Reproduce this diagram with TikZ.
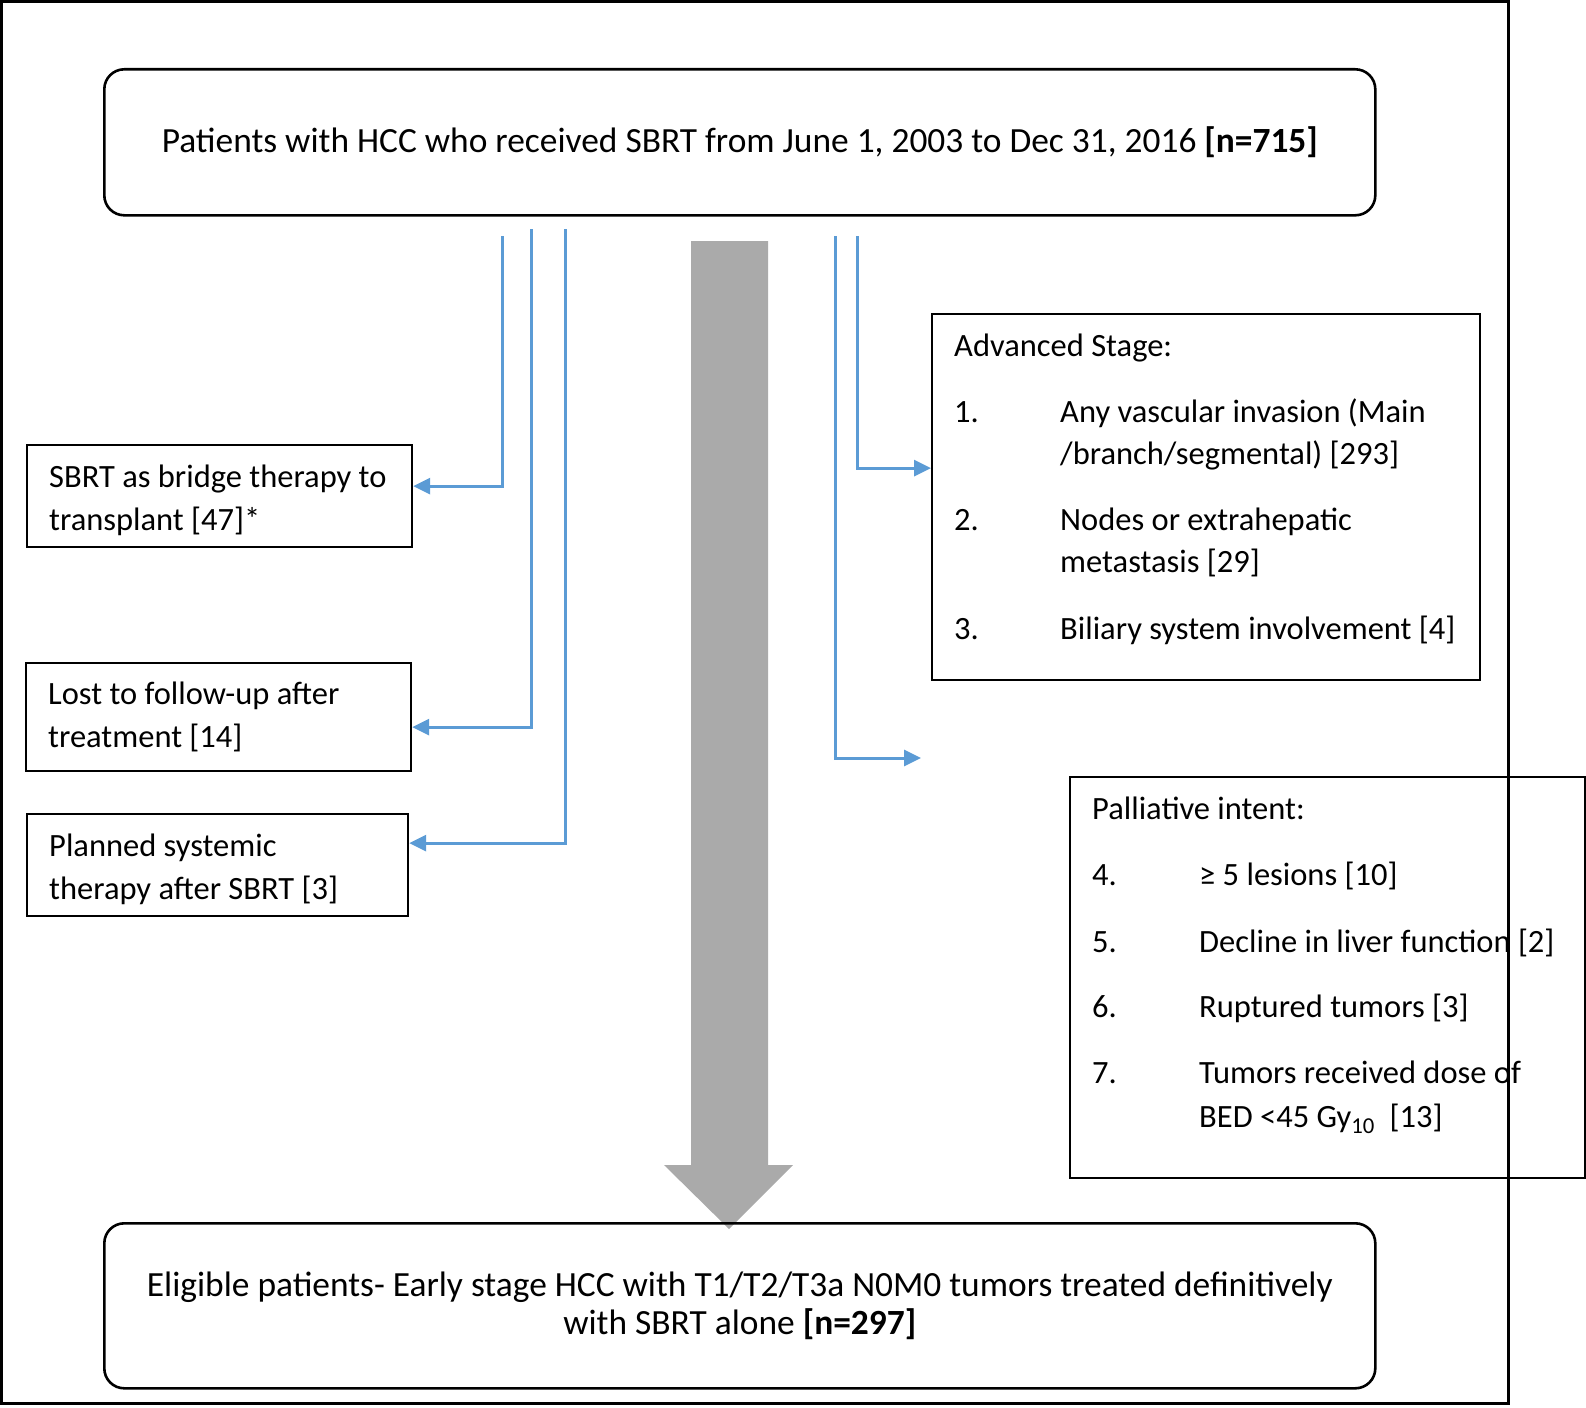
\documentclass[tikz,border=0pt]{standalone}
\usepackage{fontspec}
\setmainfont{Carlito}
\usepackage{xcolor}
\usepackage{tikz}
\usetikzlibrary{arrows.meta}
\definecolor{flowblue}{HTML}{5B9BD5}
\definecolor{arrgray}{HTML}{AAAAAA}
\tikzset{
  box_round/.style = {draw=black, line width=2.6pt, rounded corners=20pt,
    anchor=north west, minimum width=1271pt, align=center, inner sep=0pt,
    font=\fontsize{35.4}{38.5}\selectfont},% boite arrondie
  box_side/.style = {draw=black, line width=2.2pt, anchor=north west,
    inner sep=0pt},% boite exclusion
  side_txt/.style = {anchor=west, align=left, inner sep=0pt},% texte gauche
  item_txt/.style = {anchor=base west, inner sep=0pt},% ligne de liste
  flow_arr/.style = {draw=flowblue, line width=3pt,
    -{Triangle[length=17pt,width=16pt]}}% fleche bleue
}

\begin{document}
\begin{tikzpicture}[x=1pt, y=-1pt, font=\fontsize{32.5}{43}\selectfont]
\useasboundingbox (0,0) rectangle (1586,1407);
\draw[line width=3pt] (1.5,1.5) rectangle (1508,1403);

% grosse fleche grise
\fill[arrgray] (691,241) -- (768,241) -- (768,1165) -- (793,1165) -- (729,1229)
  -- (664,1165) -- (691,1165) -- cycle;

\node[box_round, minimum height=146pt] (patients) at (103,68)
  {Patients with HCC who received SBRT from June 1, 2003 to Dec 31, 2016 \textbf{[n=715]}};
\node[box_round, minimum height=165pt] (eligible) at (103,1222)
  {Eligible patients- Early stage HCC with T1/T2/T3a N0M0 tumors treated definitively\\
   with SBRT alone \textbf{[n=297]}};

% exclusions a gauche
\node[box_side, minimum width=385pt, minimum height=102pt] (bridge) at (26,444) {};
\node[side_txt] (bridge_t) at ([xshift=23pt,yshift=-4pt]bridge.west)
  {SBRT as bridge therapy to\\transplant [47]*};
\node[box_side, minimum width=385pt, minimum height=108pt] (lost) at (25,662) {};
\node[side_txt] (lost_t) at ([xshift=23pt]lost.west)
  {Lost to follow-up after\\treatment [14]};
\node[box_side, minimum width=381pt, minimum height=102pt] (systemic) at (26,813) {};
\node[side_txt] (systemic_t) at ([xshift=23pt,yshift=-4pt]systemic.west)
  {Planned systemic\\therapy after SBRT [3]};

% exclusions a droite
\node[box_side, minimum width=548pt, minimum height=366pt] (advanced) at (931,313) {};
\node[item_txt] (adv_h) at (954,356) {Advanced Stage:};
\node[item_txt] (adv1_n) at (954,422) {1.};
\node[item_txt] (adv1_a) at (1060,422) {Any vascular invasion (Main};
\node[item_txt] (adv1_b) at (1060,464) {/branch/segmental) [293]};
\node[item_txt] (adv2_n) at (954,530) {2.};
\node[item_txt] (adv2_a) at (1060,530) {Nodes or extrahepatic};
\node[item_txt] (adv2_b) at (1060,572) {metastasis [29]};
\node[item_txt] (adv3_n) at (954,639) {3.};
\node[item_txt] (adv3_a) at (1060,639) {Biliary system involvement [4]};

\node[box_side, minimum width=515pt, minimum height=401pt] (palliative) at (1069,776) {};
\node[item_txt] (pal_h) at (1092,819) {Palliative intent:};
\node[item_txt] (pal4_n) at (1092,885) {4.};
\node[item_txt] (pal4_a) at (1199,885) {≥ 5 lesions [10]};
\node[item_txt] (pal5_n) at (1092,952) {5.};
\node[item_txt] (pal5_a) at (1199,952) {Decline in liver function [2]};
\node[item_txt] (pal6_n) at (1092,1017) {6.};
\node[item_txt] (pal6_a) at (1199,1017) {Ruptured tumors [3]};
\node[item_txt] (pal7_n) at (1092,1083) {7.};
\node[item_txt] (pal7_a) at (1199,1083) {Tumors received dose of};
\node[item_txt] (pal7_b) at (1199,1127) {BED <45 Gy\textsubscript{10}\ \ [13]};

% fleches bleues
\coordinate (l1) at (502,236);
\coordinate (l2) at (531,229);
\coordinate (l3) at (565,229);
\coordinate (l4) at (857,236);
\coordinate (l5) at (835,236);
\coordinate (l5_end) at (921,758);
\draw[flow_arr] (l1) |- ([yshift=10pt]bridge.east);
\draw[flow_arr] (l2) |- ([yshift=-10pt]lost.east);
\draw[flow_arr] (l3) |- ([yshift=22pt]systemic.east);
\draw[flow_arr] (l4) |- ([yshift=29pt]advanced.west);
\draw[flow_arr] (l5) |- (l5_end);
\end{tikzpicture}
\end{document}
